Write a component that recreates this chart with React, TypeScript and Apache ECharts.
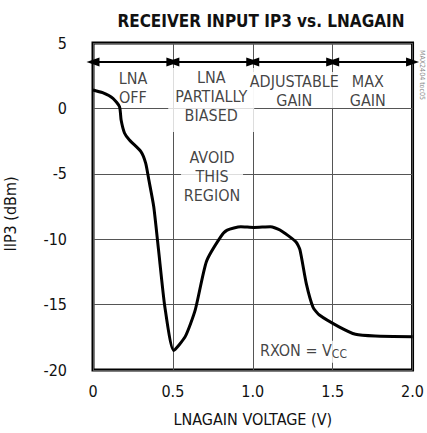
import React, { useEffect, useRef } from "react";
import * as echarts from "echarts";

const FONT = "'DejaVu Sans Condensed', 'Liberation Sans Narrow', 'Arial Narrow', sans-serif";

// Curve: LNAGAIN voltage (V) vs IIP3 (dBm)
const voltage = [0, 0.06, 0.125, 0.166, 0.176, 0.197, 0.228, 0.3, 0.33, 0.35, 0.38, 0.41, 0.45, 0.505, 0.577, 0.64, 0.71, 0.8, 0.84, 0.925, 1.007, 1.11, 1.17, 1.27, 1.295, 1.335, 1.377, 1.417, 1.54, 1.643, 1.766, 2.0];
const iip3 = [1.41, 1.2, 0.77, 0.13, -0.89, -1.88, -2.42, -3.3, -4.2, -5.5, -7.5, -10.8, -15.2, -18.5, -17.45, -15.4, -11.7, -9.8, -9.3, -9.05, -9.1, -9.05, -9.3, -10.2, -10.8, -13.4, -15.2, -15.8, -16.7, -17.27, -17.4, -17.45];

// Region arrows
const regionEdges = [0, 0.5, 1.0, 1.5, 2.0];
const arrowLevel = 3.55;

// Annotations (data coordinates)
const noteTexts = ["LNA\nOFF", "LNA\nPARTIALLY\nBIASED", "AVOID\nTHIS\nREGION", "ADJUSTABLE\nGAIN", "MAX\nGAIN", "RXON = V{sub|CC}"];
const noteX = [0.25, 0.74, 0.745, 1.26, 1.72, 1.317];
const noteY = [1.56, 0.64, -5.44, 1.41, 1.41, -18.6];
// box sizes (style)
const boxW = [50, 86, 62, 86, 46, 88];
const boxH = [38, 64, 64, 36, 36, 22];

const xTickFmt = (v: number) => (v === 0 ? "0" : v.toFixed(1));

export default function App() {
  const ref = useRef<HTMLDivElement>(null);
  useEffect(() => {
    if (!ref.current) return;
    const chart = echarts.init(ref.current, undefined, { renderer: "svg" });
    const arrowData = regionEdges.slice(0, -1).map((x0, i) => [
      { coord: [x0, arrowLevel] },
      { coord: [regionEdges[i + 1], arrowLevel] },
    ]);
    chart.setOption({
      animation: false,
      backgroundColor: "#fff",
      title: {
        text: "RECEIVER INPUT IP3 vs. LNAGAIN",
        left: 256,
        top: 7,
        textAlign: "center",
        textStyle: { fontFamily: FONT, fontSize: 17, fontWeight: "bold", color: "#111" },
      },
      grid: { left: 93, right: 9, top: 43, bottom: 63, show: true, borderColor: "#000", borderWidth: 3 },
      xAxis: {
        type: "value",
        min: 0,
        max: 2,
        interval: 0.5,
        name: "LNAGAIN VOLTAGE (V)",
        nameLocation: "middle",
        nameGap: 41,
        nameTextStyle: { fontFamily: FONT, fontSize: 16, color: "#111" },
        axisLine: { show: false },
        axisTick: { show: false },
        splitLine: { lineStyle: { color: "#555", width: 1 } },
        axisLabel: { margin: 13, fontFamily: FONT, fontSize: 16, color: "#111", formatter: xTickFmt },
      },
      yAxis: {
        type: "value",
        min: -20,
        max: 5,
        interval: 5,
        axisLine: { show: false },
        axisTick: { show: false },
        splitLine: { lineStyle: { color: "#555", width: 1 } },
        axisLabel: { margin: 26, fontFamily: FONT, fontSize: 16, color: "#111" },
      },
      graphic: [
        {
          type: "text",
          x: 10,
          y: 214,
          rotation: Math.PI / 2,
          style: { text: "IIP3 (dBm)", font: `16px ${FONT}`, fill: "#111", align: "center", verticalAlign: "middle" },
        },
        {
          type: "text",
          x: 422,
          y: 75,
          rotation: -Math.PI / 2,
          style: { text: "MAX2404 toc05", font: `7px ${FONT}`, fill: "#888", align: "center", verticalAlign: "middle" },
        },
      ],
      series: [
        {
          type: "scatter",
          z: 3,
          silent: true,
          symbolSize: 0,
          data: noteTexts.map((t, i) => ({
            name: t,
            value: [noteX[i], noteY[i]],
            label: {
              show: true,
              position: "inside",
              formatter: t,
              fontFamily: FONT,
              fontSize: 16,
              lineHeight: 19,
              color: "#111",
              align: "center",
              verticalAlign: "middle",
              width: boxW[i],
              height: boxH[i],
              backgroundColor: "#fff",
              rich: {
                sub: { fontFamily: FONT, fontSize: 12, color: "#111", verticalAlign: "bottom", padding: [6, 0, 0, 0] },
              },
            },
          })),
          markLine: {
            silent: true,
            symbol: ["triangle", "triangle"],
            symbolSize: [9, 13],
            label: { show: false },
            lineStyle: { color: "#000", width: 2, type: "solid" },
            emphasis: { disabled: true },
            data: arrowData,
          },
        },
        {
          type: "line",
          z: 5,
          silent: true,
          data: voltage.map((v, i) => [v, iip3[i]]),
          showSymbol: false,
          smooth: 0.2,
          lineStyle: { color: "#000", width: 3 },
        },
      ],
    });
    return () => chart.dispose();
  }, []);
  return <div ref={ref} style={{ position: "absolute", left: 0, top: 0, width: 427, height: 433 }} />;
}
